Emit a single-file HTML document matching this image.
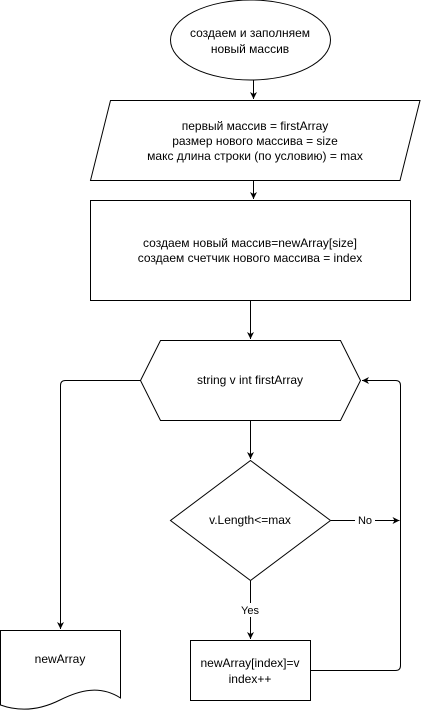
<!DOCTYPE html>
<html><head><style>body{margin:0;background:#fff}svg{display:block}text{font-family:"Liberation Sans",sans-serif;font-size:12px;fill:#000}</style></head><body>
<svg width="421" height="711" viewBox="0 0 421 711" xmlns="http://www.w3.org/2000/svg">
<defs><marker id="a" markerWidth="8" markerHeight="8" refX="7" refY="4" orient="auto" markerUnits="userSpaceOnUse"><path d="M0,0.5 L7,4 L0,7.5 L2,4 Z" fill="#000"/></marker></defs>
<g fill="#fff" stroke="#000" stroke-width="1">
<ellipse cx="250.5" cy="40" rx="80" ry="40"/>
<polygon points="110.5,100.5 420,100.5 400,180.5 90.5,180.5"/>
<rect x="90.5" y="200.5" width="320" height="100"/>
<polygon points="160.5,340.5 340.5,340.5 360.5,380.5 340.5,420.5 160.5,420.5 140.5,380.5"/>
<polygon points="250.5,460.5 330.5,520.5 250.5,580.5 170.5,520.5"/>
<rect x="190.5" y="640.5" width="120" height="60"/>
<path d="M0.5,630.5 H120.5 V698 C100,685 80,690 60,700 C40,710 20,712 0.5,705 Z"/>
</g>
<g fill="none" stroke="#000" stroke-width="1">
<line x1="253.5" y1="80" x2="253.5" y2="99" marker-end="url(#a)"/>
<line x1="253.5" y1="181" x2="253.5" y2="199" marker-end="url(#a)"/>
<line x1="250.5" y1="301" x2="250.5" y2="339" marker-end="url(#a)"/>
<line x1="250.5" y1="421" x2="250.5" y2="459" marker-end="url(#a)"/>
<line x1="250.5" y1="581" x2="250.5" y2="639" marker-end="url(#a)"/>
<path d="M140.5,380.5 H65.5 Q60.5,380.5 60.5,385.5 V629" marker-end="url(#a)"/>
<line x1="331" y1="520.5" x2="399.5" y2="520.5" marker-end="url(#a)"/>
<path d="M311,670.5 H395.5 Q400.5,670.5 400.5,665.5 V385.5 Q400.5,380.5 395.5,380.5 H362" marker-end="url(#a)"/>
</g>
<rect x="355" y="513" width="20" height="14" fill="#fff"/>
<rect x="238" y="603" width="26" height="14" fill="#fff"/>
<g text-anchor="middle">
<text x="250" y="37">создаем и заполняем</text>
<text x="250" y="53">новый массив</text>
<text x="255" y="130">первый массив = firstArray</text>
<text x="255" y="145">размер нового массива = size</text>
<text x="255" y="160">макс длина строки (по условию) = max</text>
<text x="250" y="247">создаем новый массив=newArray[size]</text>
<text x="250" y="262">создаем счетчик нового массива = index</text>
<text x="250" y="384">string v int firstArray</text>
<text x="250" y="524">v.Length&lt;=max</text>
<text x="365" y="524" style="font-size:11px">No</text>
<text x="250" y="614" style="font-size:11px">Yes</text>
<text x="250" y="667">newArray[index]=v</text>
<text x="250" y="683">index++</text>
<text x="60" y="663">newArray</text>
</g>
</svg>
</body></html>
